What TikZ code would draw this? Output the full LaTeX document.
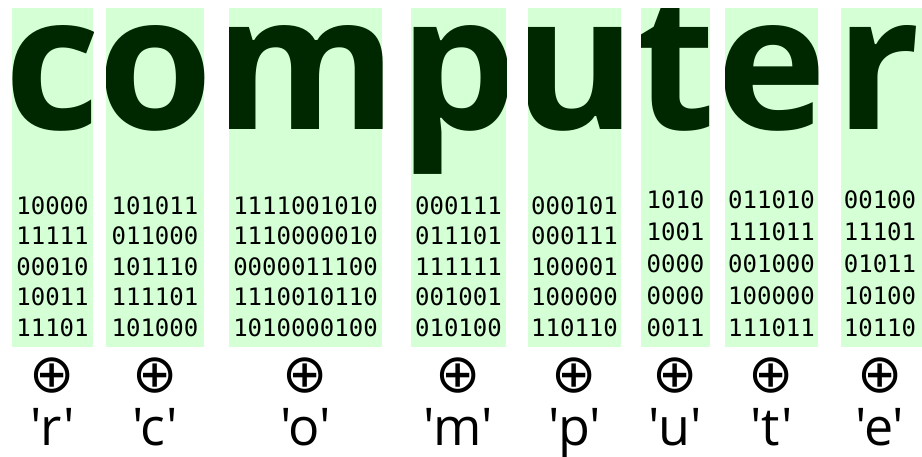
\documentclass[tikz,border=0pt]{standalone}
\usepackage{fontspec}
\newfontfamily\wordfont{Open Sans}
\newfontfamily\labelfont{Open Sans}[Ligatures=TeXOff]
\newfontfamily\bitfont{DejaVu Sans Mono}
\newfontfamily\symfont{DejaVu Sans}
\usetikzlibrary{positioning}
\definecolor{colfill}{HTML}{D5FFD5}
\definecolor{inkgreen}{HTML}{002800}
\tikzset{
  col/.style      = {fill=colfill, draw=none},
  big/.style      = {anchor=base, inner sep=0pt, text=inkgreen,
                     font=\wordfont\bfseries\fontsize{187}{187}\selectfont},
  bits/.style     = {anchor=south, align=center, inner sep=0pt,
                     font=\bitfont\fontsize{24}{30.5}\selectfont},
  bitsloose/.style = {bits, font=\bitfont\fontsize{24}{32}\selectfont},
  xor/.style      = {anchor=center, inner sep=0pt,
                     font=\symfont\fontsize{54}{54}\selectfont},
  lbl/.style      = {anchor=base, inner sep=0pt,
                     font=\labelfont\fontsize{52}{52}\selectfont},
}

\begin{document}
\begin{tikzpicture}[x=1pt, y=-1pt]
    \useasboundingbox (0,0) rectangle (922,457);
    % one green column per character
    \fill[col] (12,8) rectangle (93,347);
    \fill[col] (106,8) rectangle (204,347);
    \fill[col] (229,8) rectangle (382,347);
    \fill[col] (411,8) rectangle (506,347);
    \fill[col] (528,8) rectangle (621,347);
    \fill[col] (641,8) rectangle (710,347);
    \fill[col] (725,8) rectangle (818,347);
    \fill[col] (841,8) rectangle (930,347);
    % the word, cut off at the column edges
    \begin{scope}
      \clip (12,8) rectangle (93,347) (106,8) rectangle (204,347)
            (229,8) rectangle (382,347) (411,8) rectangle (506,347)
            (528,8) rectangle (621,347) (641,8) rectangle (710,347)
            (725,8) rectangle (818,347) (841,8) rectangle (930,347);
      \node[big] (wc) at (52.5,130) {c};
      \node[big] (wo) at (155,130) {o};
      \node[big] (wm) at (305.5,130) {m};
      \node[big] (wp) at (458.5,130) {p};
      \node[big] (wu) at (574.5,130) {u};
      \node[big] (wt) at (675.5,130) {t};
      \node[big] (we) at (771.5,130) {e};
      \node[big] (wr) at (878,130) {r};
    \end{scope}
    % bit rows
    \node[bits] (br) at (52.5,337) {10000\\11111\\00010\\10011\\11101};
    \node[bits] (bc) at (155,337) {101011\\011000\\101110\\111101\\101000};
    \node[bits] (bo) at (305.5,337) {1111001010\\1110000010\\0000011100\\1110010110\\1010000100};
    \node[bits] (bm) at (458.5,337) {000111\\011101\\111111\\001001\\010100};
    \node[bits] (bp) at (574.5,337) {000101\\000111\\100001\\100000\\110110};
    \node[bitsloose] (bu) at (675.5,337) {1010\\1001\\0000\\0000\\0011};
    \node[bitsloose] (bt) at (771.5,337) {011010\\111011\\001000\\100000\\111011};
    \node[bitsloose] (be) at (880,337) {00100\\11101\\01011\\10100\\10110};
    % xor signs
    \node[xor] (xr) at (52.5,376) {⊕};
    \node[xor] (xc) at (155,376) {⊕};
    \node[xor] (xo) at (305.5,376) {⊕};
    \node[xor] (xm) at (458.5,376) {⊕};
    \node[xor] (xp) at (574.5,376) {⊕};
    \node[xor] (xu) at (675.5,376) {⊕};
    \node[xor] (xt) at (771.5,376) {⊕};
    \node[xor] (xe) at (880,376) {⊕};
    % key characters
    \node[lbl] (kr) at (52.5,445) {'r'};
    \node[lbl] (kc) at (155,445) {'c'};
    \node[lbl] (ko) at (305.5,445) {'o'};
    \node[lbl] (km) at (458.5,445) {'m'};
    \node[lbl] (kp) at (574.5,445) {'p'};
    \node[lbl] (ku) at (675.5,445) {'u'};
    \node[lbl] (kt) at (771.5,445) {'t'};
    \node[lbl] (ke) at (880,445) {'e'};
\end{tikzpicture}
\end{document}
